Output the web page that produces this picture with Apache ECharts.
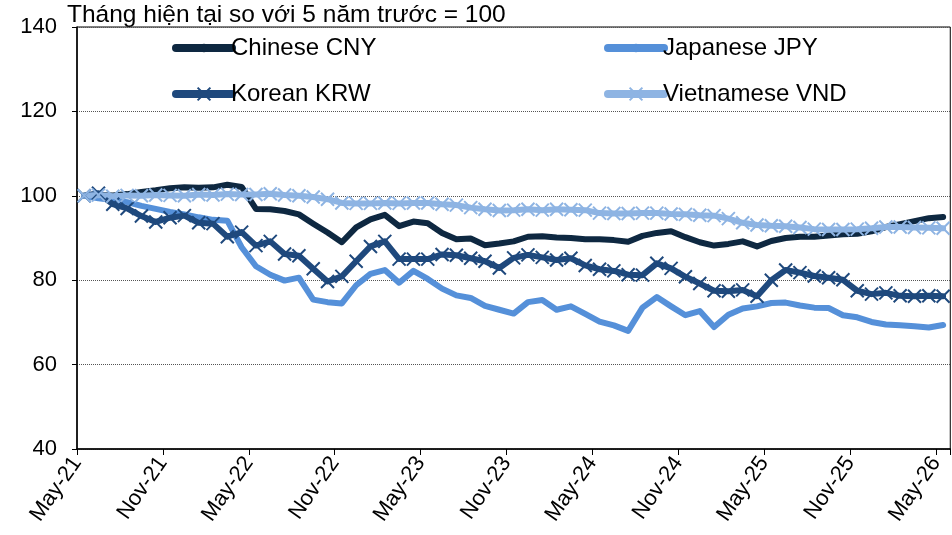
<!DOCTYPE html>
<html>
<head>
<meta charset="utf-8">
<script src="https://cdn.jsdelivr.net/npm/echarts@6/dist/echarts.min.js"></script>
<style>
  html, body { margin: 0; padding: 0; background: #fff; }
  #main { width: 952px; height: 535px; }
</style>
</head>
<body>
<div id="main"></div>
<script>
// tháng: May-21 .. May-26 (61 điểm)
const monthNames = ['Jan', 'Feb', 'Mar', 'Apr', 'May', 'Jun', 'Jul', 'Aug', 'Sep', 'Oct', 'Nov', 'Dec'];
const months = [];
for (let k = 0; k < 61; k++) {
    months.push(monthNames[(4 + k) % 12] + '-' + (21 + Math.floor((4 + k) / 12)));
}
const tickLabels = ['May-21', 'Nov-21', 'May-22', 'Nov-22', 'May-23', 'Nov-23', 'May-24', 'Nov-24', 'May-25', 'Nov-25', 'May-26'];
const yTicks = [40, 60, 80, 100, 120, 140];

const cny = [100, 100.2, 100.1, 100.4, 100.9, 101.3, 101.8, 102.0, 101.9, 102.0, 102.6, 102.1, 96.9,
    96.8, 96.4, 95.6, 93.4, 91.3, 89.0, 92.5, 94.4, 95.5, 92.8, 93.9,
    93.5, 91.2, 89.7, 89.9, 88.3, 88.7, 89.2, 90.3, 90.4, 90.1, 90.0, 89.7, 89.7, 89.5, 89.1, 90.5,
    91.2, 91.6, 90.2, 89.0, 88.2, 88.6, 89.2, 88.0, 89.3, 90.0, 90.3, 90.3, 90.6, 90.9, 91.0, 91.6, 92.6, 93.3, 94.0, 94.7, 95.0];
const jpy = [100, 99.4, 99.0, 98.5, 97.6, 96.9, 96.2, 95.6, 94.9, 94.3, 94.1,
    87.8, 83.3, 81.3, 79.9, 80.6, 75.4, 74.8, 74.5, 78.8, 81.5,
    82.4, 79.4, 82.2, 80.3, 78.0, 76.4, 75.8, 73.9, 73.0, 72.1, 74.8, 75.3, 73.0, 73.8, 72.0, 70.2, 69.3, 68.0, 73.5,
    76.0, 73.8, 71.7, 72.7, 68.9, 71.8, 73.3, 73.8, 74.6, 74.7, 74.0, 73.5, 73.4, 71.7, 71.2, 70.1, 69.5, 69.3, 69.1, 68.8, 69.4];
const krw = [100, 100.6, 98.0, 97.0, 95.2, 93.8, 94.8, 95.3, 93.6, 93.4,
    90.3, 91.4, 88.2, 89.2, 86.2, 85.8, 82.7, 79.7, 80.9, 84.5,
    88.0, 89.2, 85.0, 85.0, 85.0, 86.1, 85.9, 85.2, 84.5, 82.9,
    85.3, 86.0, 85.4, 84.8, 85.2, 83.5, 82.6, 82.2, 81.3, 81.2,
    84.0, 82.8, 80.8, 79.2, 77.5, 77.4, 77.7, 76.2, 80.0, 82.4,
    81.8, 81.0, 80.6, 80.1, 77.5, 76.7, 77.0, 76.3, 76.2, 76.3, 76.2];
const vnd = [100, 100.2, 99.9, 100.1, 100.0, 100.2, 100.1, 100.0, 100.3, 100.2,
    100.4, 100.3, 100.3, 100.5, 100.2, 100.0, 99.7, 99.2, 98.3, 98.2,
    98.2, 98.3, 98.2, 98.3, 98.3, 98.0, 97.8, 97.2, 96.8, 96.5,
    96.6, 96.8, 96.6, 96.8, 96.7, 96.6, 95.9, 95.8, 95.8, 95.9,
    95.9, 95.7, 95.6, 95.4, 95.3, 94.6, 93.6, 93.1, 92.9, 92.8,
    92.5, 92.1, 92.0, 92.0, 92.1, 92.3, 92.6, 92.6, 92.5, 92.4, 92.3];

const FONT = 'Liberation Sans';
const crossSymbol = 'path://M0,0L10,10M0,10L10,0';

function lineSeries(name, data, color, marker) {
    return {
        name: name,
        type: 'line',
        data: data,
        xAxisIndex: 0,
        symbol: marker ? crossSymbol : 'none',
        symbolSize: 13,
        showSymbol: !!marker,
        showAllSymbol: true,
        animation: false,
        lineStyle: { color: color, width: 6, cap: 'round', join: 'round' },
        itemStyle: { color: color, borderColor: color, borderWidth: 2 }
    };
}

// mỗi mục chú giải đặt riêng (bố cục 2x2)
function legendAt(name, left, top, marker) {
    return {
        data: [name],
        left: left,
        top: top,
        padding: 0,
        itemWidth: 56,
        itemHeight: marker ? 16 : 8,
        lineStyle: { width: 8, cap: 'round' },
        textStyle: { fontFamily: FONT, fontSize: 24, color: '#000', padding: [0, 0, 0, -6] }
    };
}

const chart = echarts.init(document.getElementById('main'), null, { renderer: 'canvas' });
chart.setOption({
    animation: false,
    backgroundColor: '#fff',
    title: {
        text: 'Tháng hiện tại so với 5 năm trước = 100',
        left: 67,
        top: 3,
        padding: 0,
        textStyle: { fontFamily: FONT, fontSize: 24.5, fontWeight: 'normal', color: '#000' }
    },
    legend: [
        legendAt('Chinese CNY', 172, 36, false),
        legendAt('Japanese JPY', 604, 36, false),
        legendAt('Korean KRW', 172, 82, true),
        legendAt('Vietnamese VND', 604, 82, true)
    ],
    grid: {
        left: 77, right: -2, top: 27, bottom: 86,
        show: true, borderColor: '#000', borderWidth: 1
    },
    xAxis: [
        {
            type: 'category',
            data: months,
            boundaryGap: true,
            axisLine: { lineStyle: { color: '#000', width: 1.5 } },
            axisTick: { show: false },
            axisLabel: { show: false },
            splitLine: { show: false }
        },
        {
            // trục phụ chỉ để đặt nhãn và vạch chia mỗi 6 tháng
            type: 'value',
            position: 'bottom',
            min: 0,
            max: months.length,
            interval: 6,
            axisLine: { show: false },
            axisTick: { show: true, length: 6, lineStyle: { color: '#000' } },
            axisLabel: {
                rotate: 55,
                margin: 10,
                fontFamily: FONT,
                fontSize: 22,
                color: '#000',
                formatter: v => tickLabels[v / 6] || ''
            },
            splitLine: { show: false }
        }
    ],
    yAxis: {
        type: 'value',
        min: yTicks[0],
        max: yTicks[yTicks.length - 1],
        interval: 20,
        axisLine: { show: true, lineStyle: { color: '#000', width: 1.5 } },
        axisTick: { show: true, length: 5, lineStyle: { color: '#000' } },
        axisLabel: { margin: 20, fontFamily: FONT, fontSize: 22, color: '#000' },
        splitLine: { show: true, lineStyle: { color: '#555', type: [1, 1], width: 1 } }
    },
    series: [
        lineSeries('Chinese CNY', cny, '#0E2841', false),
        lineSeries('Japanese JPY', jpy, '#5590D9', false),
        lineSeries('Korean KRW', krw, '#1F497D', true),
        lineSeries('Vietnamese VND', vnd, '#8EB4E3', true)
    ]
});
</script>
</body>
</html>
